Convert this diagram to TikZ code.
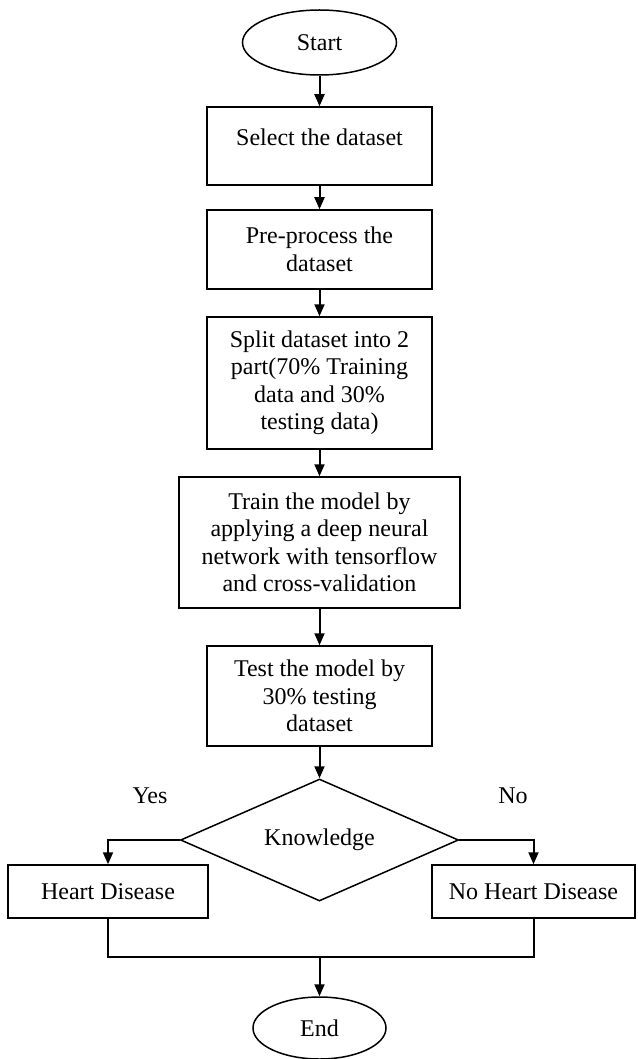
\documentclass[tikz,border=0pt]{standalone}
\usepackage{fontspec}
\setmainfont{Liberation Serif}
\usetikzlibrary{shapes.geometric,arrows.meta}

\begin{document}
\begin{tikzpicture}[x=1pt,y=1pt,->,>={Triangle[length=12pt,width=10pt]},line width=2pt,font=\fontsize{24}{27.5}\selectfont,
    main node/.style={ellipse,draw,line width=1.5pt,minimum width=154pt,minimum height=65pt,inner sep=0pt},
    box node/.style={rectangle,draw,line width=1.5pt,minimum width=225pt,inner sep=0pt,align=center},
    test node/.style={diamond,draw,line width=1.5pt,aspect=2.3,minimum width=278pt,minimum height=122pt,inner sep=0pt}]
                        \useasboundingbox (0,0) rectangle (637,-1059);

                        \node[main node] (1) at (319.5,-42.5) {Start};
                        \node[box node,minimum height=78pt,text depth=18pt] (2) [below of = 1, node distance=103.5pt] {Select the dataset};
                        \node[box node,minimum height=79pt] (3) [below of = 2, node distance=103.5pt] {Pre-process the\\dataset};
                        \node[box node,minimum height=132pt] (4) [below of = 3, node distance=133.5pt] {Split dataset into 2\\part(70\% Training\\data and 30\%\\testing data)};
                        \node[box node,minimum width=281pt,minimum height=131pt] (5) [below of = 4, node distance=159.5pt] {Train the model by\\applying a deep neural\\network with tensorflow\\and cross-validation};
                        \node[box node,minimum height=100pt] (6) [below of = 5, node distance=153.5pt] {Test the model by\\30\% testing\\dataset};

                        \node[test node] (7) [below of = 6, node distance=144pt] {Knowledge};

                        \node[box node,minimum width=200pt,minimum height=53pt] (8) [left of = 7, node distance=211.5pt, yshift=-51.5pt] {Heart Disease};
                        \node[box node,minimum width=203pt,minimum height=53pt] (9) [right of = 7, node distance=214pt, yshift=-51.5pt] {No Heart Disease};

                        \node (12) [above of = 8, node distance=95.5pt, xshift=42pt] {Yes};
                        \node (13) [above of = 9, node distance=95.5pt, xshift=-20.5pt] {No};

                        \coordinate[below of = 7, node distance=117pt] (11);
                        \node[main node,minimum width=133pt,minimum height=62pt] (10) [below of = 7, node distance=188pt] {End};

                        \path
                                (1) edge (2)
                                (2) edge (3)
                                (3) edge (4)
                                (4) edge (5)
                                (5) edge (6)
                                (6) edge (7)
                                (11) edge (10)
                            ;

                        \draw (7.west) -| (8);
                        \draw (7.east) -| (9);
                        \draw[-] (8) |- (11) -| (9);
                    \end{tikzpicture}
\end{document}
